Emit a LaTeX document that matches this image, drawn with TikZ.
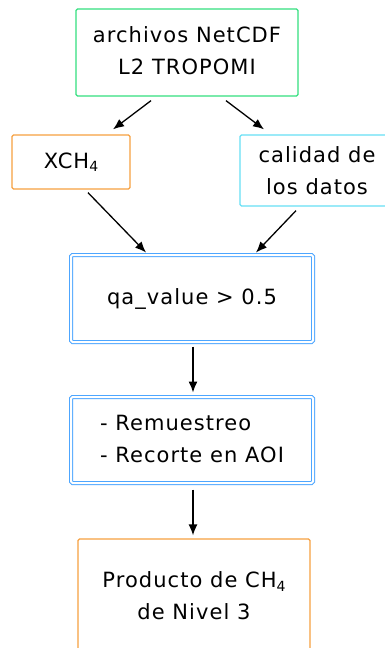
\documentclass[tikz,border=0pt]{standalone}
\usepackage{fontspec}
\setmainfont[LetterSpace=5]{DejaVu Sans}
\usetikzlibrary{arrows.meta}
\definecolor{cgreen}{HTML}{33E07F}
\definecolor{corange}{HTML}{F7A040}
\definecolor{ccyan}{HTML}{66E0F5}
\definecolor{cblue}{HTML}{4DA6FF}
\tikzset{
  box/.style={draw, line width=1.3pt, rounded corners=1.5pt, align=center, inner sep=0pt, font=\fontsize{21}{32}\selectfont},
  dbox/.style={box, draw=cblue, double=white, double distance=2pt, line width=1pt},
  arr/.style={-{Latex[length=11pt,width=9pt]}, line width=1.3pt, black},
}
\newcommand{\sub}[1]{\raisebox{-0.3ex}{\fontsize{14}{14}\selectfont #1}}
\begin{document}
\begin{tikzpicture}[x=1pt,y=-1pt]
\useasboundingbox (0,0) rectangle (384,648);
\fill[white] (0,0) rectangle (384,648);
\node[box, draw=cgreen, minimum width=222pt, minimum height=87pt] (top) at (187,52.5) {\raisebox{-3pt}{\begin{tabular}{@{}c@{}}archivos NetCDF\\L2 TROPOMI\end{tabular}}};
\node[box, draw=corange, minimum width=118pt, minimum height=54pt] (xch) at (71,162) {XCH\sub{4}};
\node[box, draw=ccyan, minimum width=154pt, minimum height=71pt] (cal) at (317,170.5) {calidad de\\los datos};
\node[dbox, minimum width=242pt, minimum height=87pt] (qa) at (192,298.5) {qa\_value > 0.5};
\node[dbox, minimum width=242pt, minimum height=86pt] (rem) at (192,440) {\begin{tabular}{@{}l@{}}- Remuestreo\\- Recorte en AOI\end{tabular}};
\node[box, draw=corange, minimum width=232pt, minimum height=130pt] (prod) at (194,604) {};
\node[font=\fontsize{21}{32}\selectfont, align=center, inner sep=0pt] (prodt) at (194,596) {Producto de CH\sub{4}\\de Nivel 3};
\draw[arr] ([xshift=-36pt,yshift=-4pt]top.south) -- ([xshift=42pt,yshift=5pt]xch.north);
\draw[arr] ([xshift=39pt,yshift=-4pt]top.south) -- ([xshift=-53pt,yshift=5pt]cal.north);
\draw[arr] ([xshift=17pt,yshift=-3pt]xch.south) -- ([xshift=-46pt,yshift=2pt]qa.north);
\draw[arr] ([xshift=-21pt,yshift=-4pt]cal.south) -- ([xshift=64pt,yshift=2pt]qa.north);
\draw[arr] ([xshift=1pt,yshift=-4pt]qa.south) -- ([xshift=1pt,yshift=4pt]rem.north);
\draw[arr] ([xshift=1pt,yshift=-6pt]rem.south) -- ([xshift=-1pt,yshift=3pt]prod.north);
\end{tikzpicture}
\end{document}
